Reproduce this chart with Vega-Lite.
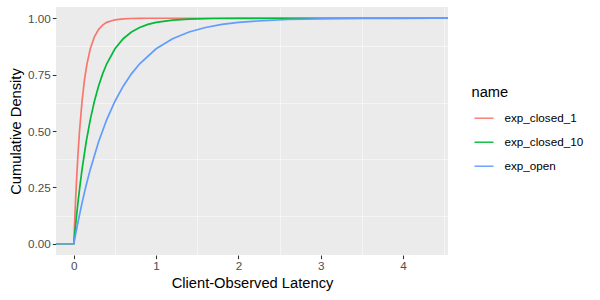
{
  "$schema": "https://vega.github.io/schema/vega-lite/v6.json",
  "width": 392,
  "height": 248,
  "autosize": {"type": "none"},
  "padding": {"left": 56, "top": 7, "right": 152, "bottom": 45},
  "background": "#FFFFFF",
  "data": {
    "values": [
      {"name": "exp_closed_1", "x": -0.3, "y": 0},
      {"name": "exp_closed_1", "x": 0, "y": 0},
      {"name": "exp_closed_1", "x": 0.01, "y": 0.0952},
      {"name": "exp_closed_1", "x": 0.02, "y": 0.1813},
      {"name": "exp_closed_1", "x": 0.03, "y": 0.2592},
      {"name": "exp_closed_1", "x": 0.05, "y": 0.3935},
      {"name": "exp_closed_1", "x": 0.07, "y": 0.5034},
      {"name": "exp_closed_1", "x": 0.1, "y": 0.6321},
      {"name": "exp_closed_1", "x": 0.13, "y": 0.7275},
      {"name": "exp_closed_1", "x": 0.16, "y": 0.7981},
      {"name": "exp_closed_1", "x": 0.2, "y": 0.8647},
      {"name": "exp_closed_1", "x": 0.25, "y": 0.9179},
      {"name": "exp_closed_1", "x": 0.3, "y": 0.9502},
      {"name": "exp_closed_1", "x": 0.35, "y": 0.9698},
      {"name": "exp_closed_1", "x": 0.4, "y": 0.9817},
      {"name": "exp_closed_1", "x": 0.5, "y": 0.9933},
      {"name": "exp_closed_1", "x": 0.6, "y": 0.9975},
      {"name": "exp_closed_1", "x": 0.7, "y": 0.9991},
      {"name": "exp_closed_1", "x": 0.8, "y": 0.9997},
      {"name": "exp_closed_1", "x": 0.9, "y": 1},
      {"name": "exp_closed_1", "x": 4.7, "y": 1},
      {"name": "exp_closed_10", "x": -0.3, "y": 0},
      {"name": "exp_closed_10", "x": 0, "y": 0},
      {"name": "exp_closed_10", "x": 0.025, "y": 0.0952},
      {"name": "exp_closed_10", "x": 0.05, "y": 0.1813},
      {"name": "exp_closed_10", "x": 0.075, "y": 0.2592},
      {"name": "exp_closed_10", "x": 0.1, "y": 0.3297},
      {"name": "exp_closed_10", "x": 0.15, "y": 0.4512},
      {"name": "exp_closed_10", "x": 0.2, "y": 0.5507},
      {"name": "exp_closed_10", "x": 0.25, "y": 0.6321},
      {"name": "exp_closed_10", "x": 0.3, "y": 0.6988},
      {"name": "exp_closed_10", "x": 0.35, "y": 0.7534},
      {"name": "exp_closed_10", "x": 0.4, "y": 0.7981},
      {"name": "exp_closed_10", "x": 0.5, "y": 0.8647},
      {"name": "exp_closed_10", "x": 0.6, "y": 0.9093},
      {"name": "exp_closed_10", "x": 0.7, "y": 0.9392},
      {"name": "exp_closed_10", "x": 0.8, "y": 0.9592},
      {"name": "exp_closed_10", "x": 0.9, "y": 0.9727},
      {"name": "exp_closed_10", "x": 1.0, "y": 0.9817},
      {"name": "exp_closed_10", "x": 1.2, "y": 0.9918},
      {"name": "exp_closed_10", "x": 1.4, "y": 0.9963},
      {"name": "exp_closed_10", "x": 1.7, "y": 0.9989},
      {"name": "exp_closed_10", "x": 2.0, "y": 0.9997},
      {"name": "exp_closed_10", "x": 2.5, "y": 1},
      {"name": "exp_closed_10", "x": 4.7, "y": 1},
      {"name": "exp_open", "x": -0.3, "y": 0},
      {"name": "exp_open", "x": 0, "y": 0},
      {"name": "exp_open", "x": 0.05, "y": 0.0952},
      {"name": "exp_open", "x": 0.1, "y": 0.1813},
      {"name": "exp_open", "x": 0.15, "y": 0.2592},
      {"name": "exp_open", "x": 0.2, "y": 0.3297},
      {"name": "exp_open", "x": 0.3, "y": 0.4512},
      {"name": "exp_open", "x": 0.4, "y": 0.5507},
      {"name": "exp_open", "x": 0.5, "y": 0.6321},
      {"name": "exp_open", "x": 0.6, "y": 0.6988},
      {"name": "exp_open", "x": 0.7, "y": 0.7534},
      {"name": "exp_open", "x": 0.8, "y": 0.7981},
      {"name": "exp_open", "x": 1.0, "y": 0.8647},
      {"name": "exp_open", "x": 1.2, "y": 0.9093},
      {"name": "exp_open", "x": 1.4, "y": 0.9392},
      {"name": "exp_open", "x": 1.6, "y": 0.9592},
      {"name": "exp_open", "x": 1.8, "y": 0.9727},
      {"name": "exp_open", "x": 2.0, "y": 0.9817},
      {"name": "exp_open", "x": 2.3, "y": 0.9899},
      {"name": "exp_open", "x": 2.6, "y": 0.9945},
      {"name": "exp_open", "x": 3.0, "y": 0.9975},
      {"name": "exp_open", "x": 3.5, "y": 0.9991},
      {"name": "exp_open", "x": 4.0, "y": 0.9997},
      {"name": "exp_open", "x": 4.33, "y": 1},
      {"name": "exp_open", "x": 4.7, "y": 1}
    ]
  },
  "layer": [
    {
      "mark": {"type": "line", "opacity": 0, "clip": true},
      "encoding": {
        "x": {
          "field": "x", "type": "quantitative",
          "scale": {"domain": [-0.2165, 4.5465], "nice": false, "zero": false},
          "axis": {"orient": "bottom", "values": [0.5, 1.5, 2.5, 3.5, 4.5], "labels": false, "ticks": false, "title": null, "gridWidth": 0.53}
        },
        "y": {
          "field": "y", "type": "quantitative",
          "scale": {"domain": [-0.05, 1.05], "nice": false, "zero": false},
          "axis": {"orient": "left", "values": [0.125, 0.375, 0.625, 0.875], "labels": false, "ticks": false, "title": null, "gridWidth": 0.53}
        },
        "detail": {"field": "name", "type": "nominal"}
      }
    },
    {
      "mark": {"type": "line", "strokeWidth": 1.7, "clip": true, "interpolate": "linear"},
      "encoding": {
        "x": {
          "field": "x", "type": "quantitative",
          "axis": {"orient": "bottom", "values": [0, 1, 2, 3, 4], "title": "Client-Observed Latency", "titlePadding": 3}
        },
        "y": {
          "field": "y", "type": "quantitative",
          "axis": {"orient": "left", "values": [0, 0.25, 0.5, 0.75, 1], "format": ".2f", "title": "Cumulative Density", "titlePadding": 4}
        },
        "color": {
          "field": "name", "type": "nominal",
          "scale": {"domain": ["exp_closed_1", "exp_closed_10", "exp_open"], "range": ["#F8766D", "#00BA38", "#619CFF"]},
          "legend": {"title": "name"}
        }
      }
    }
  ],
  "resolve": {"axis": {"x": "independent", "y": "independent"}},
  "config": {
    "view": {"fill": "#EBEBEB", "stroke": null},
    "axis": {
      "domain": false,
      "grid": true,
      "gridColor": "#FFFFFF",
      "gridWidth": 1.07,
      "tickColor": "#333333",
      "tickSize": 3.67,
      "tickWidth": 1.07,
      "labelColor": "#4D4D4D",
      "labelFont": "Liberation Sans",
      "labelFontSize": 11.7,
      "labelPadding": 2,
      "titleFont": "Liberation Sans",
      "titleFontSize": 14.7,
      "titleFontWeight": "normal",
      "titleColor": "#000000"
    },
    "legend": {
      "orient": "none",
      "legendX": 415.5,
      "legendY": 78,
      "padding": 0,
      "titleFont": "Liberation Sans",
      "titleFontSize": 14.7,
      "titleFontWeight": "normal",
      "titleColor": "#000000",
      "titlePadding": 8,
      "labelFont": "Liberation Sans",
      "labelFontSize": 11.7,
      "labelColor": "#000000",
      "labelOffset": 10,
      "symbolType": "stroke",
      "symbolSize": 361,
      "symbolStrokeWidth": 1.4,
      "symbolOffset": 2,
      "rowPadding": 6
    }
  }
}
